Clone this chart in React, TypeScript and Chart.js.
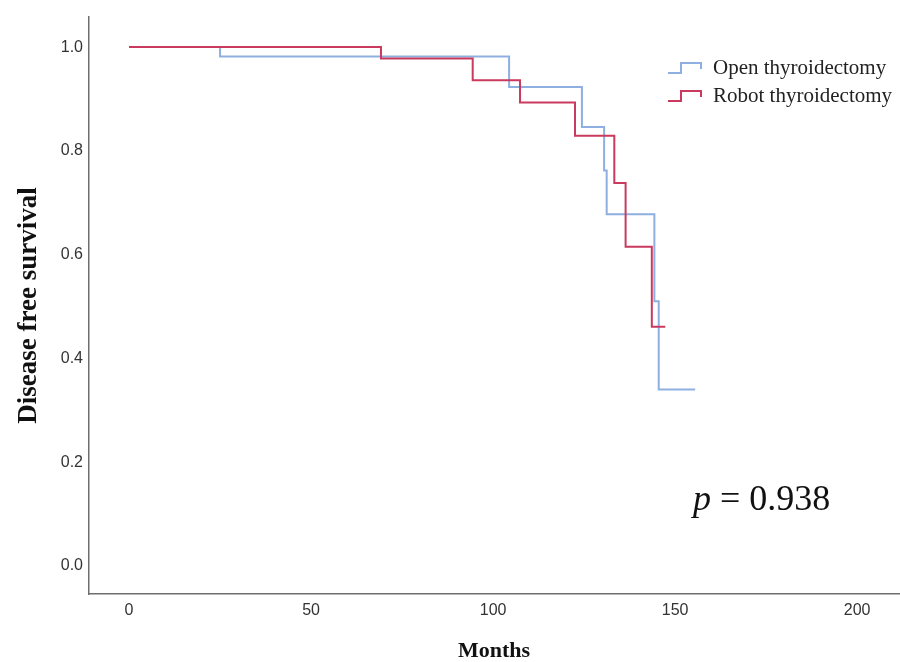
import React, { useEffect, useRef } from "react";
import { Chart, registerables } from "chart.js";

Chart.register(...registerables);

// Kaplan–Meier step data (months, survival)
const openMonths = [0, 25.0, 104.4, 124.4, 130.5, 131.2, 144.3, 145.5, 155.5];
const openSurvival = [1.0, 0.982, 0.923, 0.846, 0.762, 0.678, 0.51, 0.34, 0.34];
const robotMonths = [0, 69.2, 94.4, 107.4, 122.5, 133.3, 136.4, 143.6, 147.3];
const robotSurvival = [1.0, 0.978, 0.936, 0.893, 0.829, 0.738, 0.615, 0.461, 0.461];

const seriesLabels = ["Open thyroidectomy", "Robot thyroidectomy"];
const xTicks = [0, 50, 100, 150, 200];
const yTicks = [0.0, 0.2, 0.4, 0.6, 0.8, 1.0];
const pValueText = "= 0.938";

const OPEN_COLOR = "#8db0e0";
const ROBOT_COLOR = "#c93a5e";
const SERIF = "'Liberation Serif', 'Times New Roman', serif";
const SANS = "'Liberation Sans', Arial, sans-serif";

const overlayPlugin = {
  id: "overlay",
  afterDraw(chart: any) {
    const ctx = chart.ctx;
    ctx.save();
    // Legend
    const items = [
      { label: seriesLabels[0], color: OPEN_COLOR, y: 68 },
      { label: seriesLabels[1], color: ROBOT_COLOR, y: 96 },
    ];
    items.forEach((it) => {
      ctx.strokeStyle = it.color;
      ctx.lineWidth = 2;
      ctx.beginPath();
      ctx.moveTo(668, it.y + 5);
      ctx.lineTo(681, it.y + 5);
      ctx.lineTo(681, it.y - 5);
      ctx.lineTo(701, it.y - 5);
      ctx.lineTo(701, it.y + 1);
      ctx.stroke();
      ctx.fillStyle = "#222";
      ctx.font = `21px ${SERIF}`;
      ctx.textBaseline = "middle";
      ctx.textAlign = "left";
      ctx.fillText(it.label, 713, it.y);
    });
    // p-value
    ctx.fillStyle = "#111";
    ctx.textBaseline = "alphabetic";
    ctx.font = `italic 36px ${SERIF}`;
    ctx.fillText("p", 693, 510);
    const pw = ctx.measureText("p ").width;
    ctx.font = `36px ${SERIF}`;
    ctx.fillText(pValueText, 693 + pw, 510);
    ctx.restore();
  },
};

export default function App() {
  const ref = useRef<HTMLCanvasElement | null>(null);
  useEffect(() => {
    if (!ref.current) return;
    const openData = openMonths.map((x, i) => ({ x, y: openSurvival[i] }));
    const robotData = robotMonths.map((x, i) => ({ x, y: robotSurvival[i] }));
    const chart = new Chart(ref.current, {
      type: "line",
      data: {
        datasets: [
          {
            label: seriesLabels[0],
            data: openData,
            borderColor: OPEN_COLOR,
            borderWidth: 2,
            pointRadius: 0,
            stepped: "before",
            fill: false,
            order: 1,
          },
          {
            label: seriesLabels[1],
            data: robotData,
            borderColor: ROBOT_COLOR,
            borderWidth: 2,
            pointRadius: 0,
            stepped: "before",
            fill: false,
            order: 0,
          },
        ],
      },
      options: {
        animation: false,
        responsive: false,
        events: [],
        layout: { padding: { top: 17, right: 1, left: 0, bottom: 0 } },
        plugins: { legend: { display: false }, tooltip: { enabled: false } },
        scales: {
          x: {
            type: "linear",
            min: -11,
            max: 211.5,
            afterFit: (s: any) => {
              s.height = 68;
            },
            afterBuildTicks: (s: any) => {
              s.ticks = xTicks.map((v) => ({ value: v }));
            },
            grid: { display: false, drawTicks: false },
            border: { display: true, color: "#6e6e6e", width: 1.5 },
            ticks: {
              padding: 7,
              color: "#333",
              font: { family: SANS, size: 16 },
              callback: (v: any) => String(v),
            },
            title: {
              display: true,
              text: "Months",
              color: "#111",
              font: { family: SERIF, size: 22, weight: "bold", lineHeight: 1.0 },
              padding: { top: 0, bottom: 0 },
            },
          },
          y: {
            type: "linear",
            min: -0.054,
            max: 1.058,
            afterFit: (s: any) => {
              s.width = 89;
            },
            afterBuildTicks: (s: any) => {
              s.ticks = yTicks.map((v) => ({ value: v }));
            },
            grid: { display: false, drawTicks: false },
            border: { display: true, color: "#6e6e6e", width: 1.5 },
            ticks: {
              padding: 6,
              color: "#333",
              font: { family: SANS, size: 16 },
              callback: (v: any) => Number(v).toFixed(1),
            },
            title: {
              display: true,
              text: "Disease free survival",
              color: "#111",
              font: { family: SERIF, size: 27, weight: "bold", lineHeight: 1.2 },
              padding: { top: 13, bottom: 0 },
            },
          },
        },
      },
      plugins: [overlayPlugin],
    });
    return () => chart.destroy();
  }, []);
  return (
    <div style={{ position: "absolute", left: 0, top: 0, width: 900, height: 662, background: "#fff" }}>
      <canvas ref={ref} width={900} height={662} />
    </div>
  );
}
